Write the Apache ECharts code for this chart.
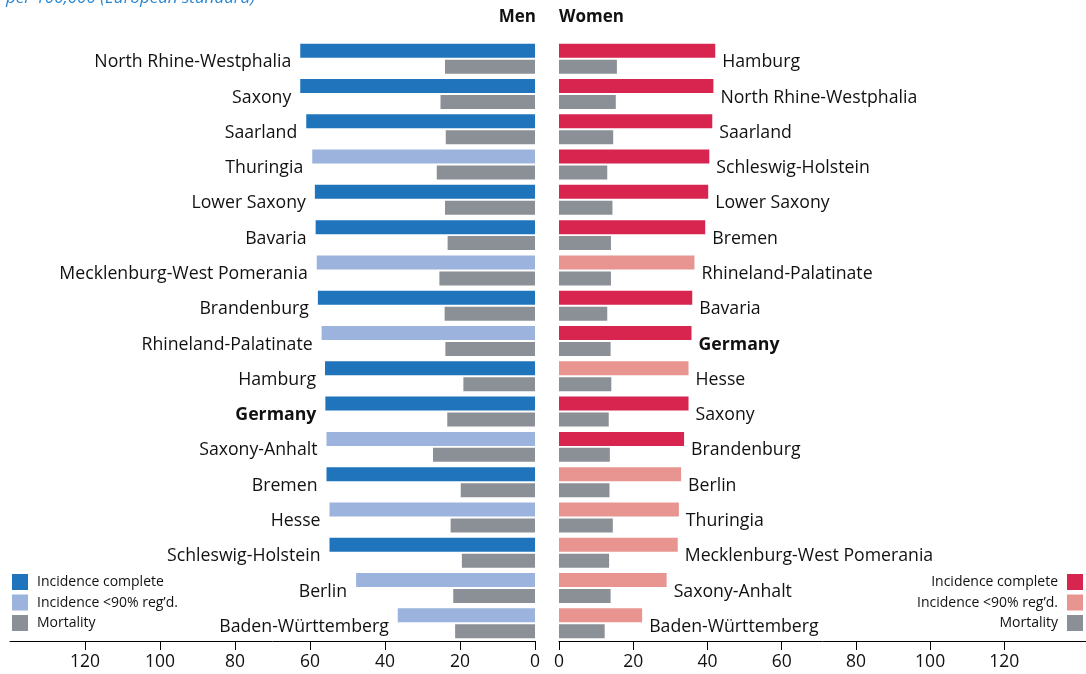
<!DOCTYPE html>
<html>
<head>
<meta charset="utf-8">
<script src="https://cdn.jsdelivr.net/npm/echarts@6/dist/echarts.min.js"></script>
<style>
html,body{margin:0;padding:0;background:#fff;}
#chart{width:1086px;height:674px;}
</style>
</head>
<body>
<div id="chart"></div>
<script>
// ---------- data ----------
const menStates = ["North Rhine-Westphalia","Saxony","Saarland","Thuringia","Lower Saxony","Bavaria","Mecklenburg-West Pomerania","Brandenburg","Rhineland-Palatinate","Hamburg","Germany","Saxony-Anhalt","Bremen","Hesse","Schleswig-Holstein","Berlin","Baden-Württemberg"];
const menIncidence = [62.6, 62.6, 61.0, 59.4, 58.7, 58.5, 58.2, 57.9, 56.9, 56.0, 55.9, 55.6, 55.6, 54.8, 54.8, 47.7, 36.6];
const menMortality = [24.0, 25.2, 23.8, 26.2, 24.0, 23.3, 25.5, 24.1, 23.9, 19.1, 23.4, 27.2, 19.8, 22.5, 19.5, 21.8, 21.3];
const menComplete  = [1,1,1,0,1,1,0,1,0,1,1,0,1,0,1,0,0];

const womenStates = ["Hamburg","North Rhine-Westphalia","Saarland","Schleswig-Holstein","Lower Saxony","Bremen","Rhineland-Palatinate","Bavaria","Germany","Hesse","Saxony","Brandenburg","Berlin","Thuringia","Mecklenburg-West Pomerania","Saxony-Anhalt","Baden-Württemberg"];
const womenIncidence = [42.1, 41.6, 41.3, 40.5, 40.2, 39.4, 36.5, 35.9, 35.7, 34.9, 34.9, 33.7, 32.9, 32.3, 32.0, 29.0, 22.4];
const womenMortality = [15.6, 15.3, 14.6, 13.0, 14.4, 14.0, 14.0, 13.0, 13.9, 14.1, 13.4, 13.7, 13.6, 14.5, 13.5, 13.9, 12.3];
const womenComplete  = [1,1,1,1,1,1,0,1,1,0,1,1,0,0,0,0,0];

const tickValues = [0, 20, 40, 60, 80, 100, 120];
const legendLabels = ["Incidence complete", "Incidence <90% reg\u2019d.", "Mortality"];
const sideTitles = ["Men", "Women"];
const subtitle = "per 100,000 (European standard)";

// ---------- style ----------
const C = {
  menFull: '#1f74bc', menPart: '#9bb3dd',
  womFull: '#d82550', womPart: '#e89592',
  mort: '#8b8f96', text: '#111', title: '#2b88d3'
};
const FONT = 'Open Sans';

function incData(states, vals, complete, full, part) {
  return vals.map((v, i) => ({
    value: v,
    name: states[i],
    itemStyle: { color: complete[i] ? full : part },
    label: { fontWeight: states[i] === 'Germany' ? 'bold' : 'normal' }
  }));
}

const chart = echarts.init(document.getElementById('chart'), null, { renderer: 'canvas' });

function valueAxis(gridIndex, inverse, max) {
  return {
    type: 'value', gridIndex, inverse, min: 0, max, interval: 20,
    axisLine: { show: true, onZero: false, lineStyle: { color: '#000', width: 1 } },
    axisTick: { show: true, customValues: tickValues, length: 9, lineStyle: { color: '#000', width: 1 } },
    axisLabel: { show: true, customValues: tickValues, fontFamily: FONT, fontSize: 17.5, color: C.text, margin: 12 },
    splitLine: { show: false }
  };
}

const labelBase = { show: true, formatter: '{b}', fontFamily: FONT, fontSize: 17.7, color: C.text };

const legendItems = [];
const lx = [12, 1067];
const ly = [574, 594.5, 615];
const leftColors = [C.menFull, C.menPart, C.mort];
const rightColors = [C.womFull, C.womPart, C.mort];
for (let i = 0; i < 3; i++) {
  legendItems.push({ type: 'rect', shape: { x: lx[0], y: ly[i], width: 16, height: 16 }, style: { fill: leftColors[i] } });
  legendItems.push({ type: 'text', x: 37, y: ly[i] + 8.5, style: { text: legendLabels[i], fill: C.text, font: '14px "' + FONT + '"', textAlign: 'left', textVerticalAlign: 'middle' } });
  legendItems.push({ type: 'rect', shape: { x: lx[1], y: ly[i], width: 16, height: 16 }, style: { fill: rightColors[i] } });
  legendItems.push({ type: 'text', x: 1058, y: ly[i] + 8.5, style: { text: legendLabels[i], fill: C.text, font: '14px "' + FONT + '"', textAlign: 'right', textVerticalAlign: 'middle' } });
}

chart.setOption({
  animation: false,
  backgroundColor: '#fff',
  grid: [
    { left: 10, right: 551, top: 41, height: 600 },
    { left: 559, right: 0, top: 41, height: 600 }
  ],
  xAxis: [ valueAxis(0, true, 140), valueAxis(1, false, 142) ],
  yAxis: [
    { type: 'category', gridIndex: 0, inverse: true, data: menStates, show: false },
    { type: 'category', gridIndex: 1, inverse: true, data: womenStates, show: false }
  ],
  series: [
    {
      type: 'bar', xAxisIndex: 0, yAxisIndex: 0, barWidth: 14,
      data: incData(menStates, menIncidence, menComplete, C.menFull, C.menPart),
      label: Object.assign({}, labelBase, { position: 'left', distance: 9, offset: [0, 11.5] })
    },
    {
      type: 'bar', xAxisIndex: 0, yAxisIndex: 0, barWidth: 14, barGap: '14%',
      data: menMortality, itemStyle: { color: C.mort }
    },
    {
      type: 'bar', xAxisIndex: 1, yAxisIndex: 1, barWidth: 14,
      data: incData(womenStates, womenIncidence, womenComplete, C.womFull, C.womPart),
      label: Object.assign({}, labelBase, { position: 'right', distance: 7, offset: [0, 11.5] })
    },
    {
      type: 'bar', xAxisIndex: 1, yAxisIndex: 1, barWidth: 14, barGap: '14%',
      data: womenMortality, itemStyle: { color: C.mort }
    }
  ],
  graphic: [
    { type: 'text', x: 536, y: 17, style: { text: sideTitles[0], fill: C.text, font: 'bold 17px "' + FONT + '"', textAlign: 'right', textVerticalAlign: 'middle' } },
    { type: 'text', x: 559, y: 17, style: { text: sideTitles[1], fill: C.text, font: 'bold 17px "' + FONT + '"', textAlign: 'left', textVerticalAlign: 'middle' } },
    { type: 'text', x: 6, y: 7, style: { text: subtitle, fill: C.title, font: 'italic 17px "' + FONT + '"', textAlign: 'left', textVerticalAlign: 'bottom' } }
  ].concat(legendItems)
});
</script>
</body>
</html>
